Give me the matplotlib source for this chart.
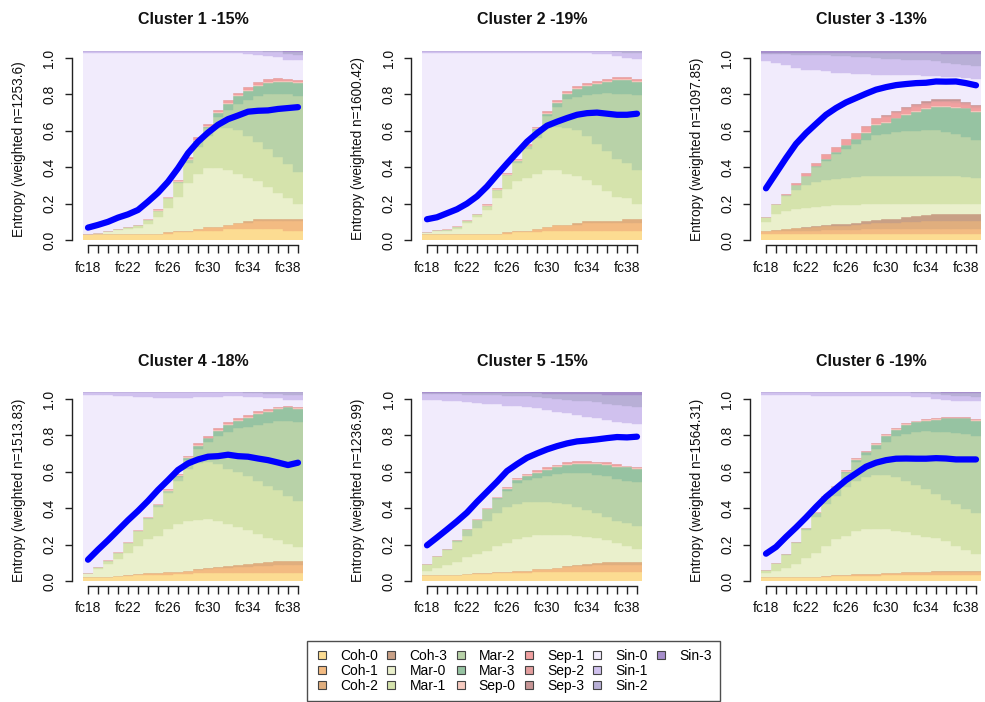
import numpy as np
import matplotlib
matplotlib.use("Agg")
import matplotlib.pyplot as plt
from matplotlib.lines import Line2D

plt.rcParams['font.family'] = ['Liberation Sans', 'DejaVu Sans']

# ---------------- data ----------------
time_labels = ["fc18", "fc19", "fc20", "fc21", "fc22", "fc23", "fc24", "fc25", "fc26", "fc27", "fc28",
               "fc29", "fc30", "fc31", "fc32", "fc33", "fc34", "fc35", "fc36", "fc37", "fc38", "fc39"]
shown_labels = ["fc18", "fc22", "fc26", "fc30", "fc34", "fc38"]

states = ["Coh-0", "Coh-1", "Coh-2", "Coh-3", "Mar-0", "Mar-1", "Mar-2", "Mar-3",
          "Sep-0", "Sep-1", "Sep-2", "Sep-3", "Sin-0", "Sin-1", "Sin-2", "Sin-3"]
state_colors = ["#FCDC92", "#F3BB82", "#E0AE7E", "#C8A086", "#EAF0CC", "#D5E3AC", "#B8D2A8", "#96C3A2",
                "#F7CBC0", "#F0A0A0", "#E39E9E", "#C79595", "#F1EBFC", "#D0C1EE", "#B8AFD6", "#A68ECB"]

titles = ["Cluster 1 -15%", "Cluster 2 -19%", "Cluster 3 -13%",
          "Cluster 4 -18%", "Cluster 5 -15%", "Cluster 6 -19%"]
weighted_n = ["1253.6", "1600.42", "1097.85", "1513.83", "1236.99", "1564.31"]

# state distributions in percent (Sin-0 = remaining share)
cluster1 = {
    "Coh-0": [3,3,3,3,3,3,3,3,3,4,4,5,5,5,6,6,6,6,6,6,5,5],
    "Coh-1": [0,0,0,0,0,0,0,0,1,1,1,1,2,2,2,3,3,4,4,4,5,5],
    "Coh-2": [0,0,0,0,0,0,0,0,0,0,0,0,0,0,0,0,1,1,1,1,1,1],
    "Mar-0": [0,0.5,2,2.5,3,3.5,5.5,9,13,18,25,29,31,31,29,26,23,20,17,14,11,8],
    "Mar-1": [0,0,0,0.5,1,1.2,2,3.4,5,7,11,14,17,21,22,23,22,21,20,19,18,17],
    "Mar-2": [0,0,0,0,0,0,0,0,0,0.5,1.5,3,4,6,10,14,19,24,29,33,37,40],
    "Mar-3": [0,0,0,0,0,0,0,0,0,0,0,0.6,0.6,2,3,4,5,5.6,6,6.7,6.7,7],
    "Sep-0": [0,0,0,0,0,0,0.5,0.5,0.5,0.5,0.5,0.5,0.5,0.5,0.5,0.5,0.5,0.5,0.5,0.5,0.5,0.5],
    "Sep-1": [0,0,0,0,0,0,0,0.5,0.5,1,1,1.5,1.5,1.5,1.5,1.5,1.5,1.5,1.5,1.5,1,1],
    "Sin-1": [1,1,1,1,1,1,1,1,1,1,1,1,1,1,1,1,1.5,2,2,2.5,3,3],
    "Sin-2": [0,0,0,0,0,0,0,0,0,0,0,0,0,0,0,0,0,0,0.5,0.5,1,1.5],
    "Sin-3": [0,0,0,0,0,0,0,0,0,0,0,0,0,0,0,0,0,0,0,0,0.5,0.5],
}
cluster2 = {
    "Coh-0": [3,3,3,3,3,3,3,3,3,4,4,4,5,5,5,5,5,5,5,5,5,5],
    "Coh-1": [0,0,0,0,0,0,0,0,1,1,1,2,2,3,3,3,4,4,4,4,4,4],
    "Coh-2": [0,0,0,0,0,0,0,0,0,0,0,0,0,0,0,1,1,1,1,1,2,2],
    "Mar-0": [1.4,2,2,3,6,9,13,19,23,26,28,29,30,29,27,25,22,19,16,13,11,8],
    "Mar-1": [0,0.3,0.5,0.9,1.1,1.5,2,4.3,7.2,10,15,19,22,23,24,24,23,22,21,20,19,18],
    "Mar-2": [0,0,0,0,0,0,0,0,0,0.6,1.5,4,6.5,10.5,15.5,17.8,21.5,26,30.7,34.5,36.5,39.7],
    "Mar-3": [0,0,0,0,0,0,0,0,0,0,0,0.5,1,2,3,4,5,5.5,6,7,7,7],
    "Sep-0": [0,0,0.5,0.5,0.5,0.5,0.5,0.5,0.5,0.5,0.5,0.5,0.5,0.5,0.5,0.5,0.5,0.5,0.5,0.5,0.5,0.5],
    "Sep-1": [0,0,0,0,0,0,0.5,0.5,0.5,0.5,1,1,1,1,1,1,1,1,1,1,1,1],
    "Sin-1": [1,1,1,1,1,1,1,1,1,1,1,1,1,1,1,1,1,1.5,1.5,2,2.5,3],
    "Sin-2": [0,0,0,0,0,0,0,0,0,0,0,0,0,0,0,0,0,0,0,0.5,1,1],
}
cluster3 = {
    "Coh-0": [3,3,3,3,3,3,3,3,3,3,3,3,3,3,3,3,3,3,3,3,3,3],
    "Coh-1": [1.5,2,2,2,2,2,2.5,2.5,2.5,2.5,3,3,3,3,3,3,3,3,3,3,3,3],
    "Coh-2": [0,0.5,1,1.5,1.5,2,2,2,2,2.5,2.5,3,3,3,3.5,3.5,4,4,4,4,4,4],
    "Coh-3": [0,0,0,0,0.5,0.5,0.5,1,1,1,1.5,1.5,2,2,2.5,3,3,3.5,4,4,4,4],
    "Mar-0": [5.2,8.5,9.5,10,10,10,10,10,10,9.5,9,8.5,8,8,7,6.5,6,5.5,5,5,5,5],
    "Mar-1": [2.6,5,8,10,12,13,13.5,14,14.5,15,15,15,15,15,15,15,15,15,15,15,14.5,14],
    "Mar-2": [0,0,0.3,2.5,4.7,8,10.4,12.8,15.2,17.2,18.7,21.8,22,23.3,23.9,23.7,24.1,24.3,23.3,22,21.1,20],
    "Mar-3": [0,0,0,0,0,0.5,1,1.5,2,3,4,5,6,7,8.5,10,11,12,13,14,15,14.8],
    "Sep-0": [0,0,0,0,0,0,0,0,0,0,0.5,0.5,0.5,0.5,0.5,0.5,0.5,0.5,0.5,0.5,0.5,0.5],
    "Sep-1": [0,0,0.5,1,1.5,2,2.5,2.5,3,3,2.5,2.5,2.5,2.5,2,2,2,2,2,2,1.5,1.5],
    "Sep-2": [0,0,0,0,0,0,0,0,0,0,0.5,0.5,0.5,0.5,0.8,1,1,1,1,1,1,1],
    "Sep-3": [0,0,0,0,0,0,0,0,0,0,0,0,0.5,0.5,0.7,1,1,1,1,1,0.5,0.5],
    "Sin-1": [4,5,6,7,8,8,8.5,9,9,9,9,9,8.5,8.5,8,8,8,7.5,7.5,7,7,7],
    "Sin-2": [0.5,0.5,0.5,1,1,1,1,1.5,1.5,2,2,2.5,3,3,3.5,3.5,4,4.5,5,5.5,6,6.5],
    "Sin-3": [1,1,1,1,1,1,1,1,1,1,1,1,1,1,1,1,1,1,1.5,1.5,1.5,1.5],
}
cluster4 = {
    "Coh-0": [2,2,2,2.5,2.5,3,3,3,3,3.5,3.5,4,4,4,4,4,4,4,4,4,4,4],
    "Coh-1": [0,0,0,0,0.5,0.5,1,1,1.5,1.5,2,2,2.5,3,3,3.5,3.5,4,4,4.5,4.5,4.5],
    "Coh-2": [0,0,0,0,0,0,0,0,0,0,0,0.5,0.5,0.5,1,1,1.5,1.5,2,2,2,2],
    "Mar-0": [2,4.5,7,9,12,15,18,20,23,25,26,26,26,24.5,22,20,18,15.5,13,11,9,7.5],
    "Mar-1": [0.2,0.9,1.8,3.3,5,8,11,15,19,23,28,30,30,30,29.5,29,28.5,28,27.5,26.5,25.5,24.5],
    "Mar-2": [0,0,0,0,0.1,0.1,0.3,1.3,1.3,2.2,4.4,7.4,10.4,14.5,19.5,23.3,26,29.8,33,36.4,39.8,41.4],
    "Mar-3": [0,0,0,0,0,0,0,0,0,0.5,1,1.5,2,3,3.5,4,5,5.5,6,6.5,7,7],
    "Sep-0": [0,0,0.5,0.5,0.5,0.5,0.5,0.5,0.5,0.5,0.5,0.5,0.5,0.5,0.5,0.5,0.5,0.5,0.5,0.5,0.5,0.5],
    "Sep-1": [0,0,0,0,0,0,0,0,0.5,0.5,1,1,1,1,1,1,1,1,1,0.5,0.5,0.5],
    "Sin-1": [1.5,1.5,1.5,2,2,2.5,2.5,3,3,3,3,2.5,2.5,2.5,2,2,2,2,2,2,2.5,2.5],
    "Sin-2": [0,0,0,0,0,0,0,0,0,0,0,0,0,0,0,0,0.5,0.5,1,1,1.5,1.5],
}
cluster5 = {
    "Coh-0": [3,3,3,3,3.5,3.5,3.5,4,4,4,4,4.5,4.5,4.5,5,5,5,5,5,5,5,5],
    "Coh-1": [0,0,0,0,0,0.5,0.5,1,1,1.5,1.5,2,2,2.5,2.5,3,3,3.5,3.5,3.5,3.5,3.5],
    "Coh-2": [0,0,0,0,0,0,0,0,0,0,0,0,0,0,0.5,0.5,1,1,1.5,1.5,1.5,1.5],
    "Mar-0": [2.5,4,5.5,7,9,10.5,12,13.5,15,16.5,18,18,18,17.5,16.5,15.5,14.5,13,11.5,10,8.5,7],
    "Mar-1": [3.7,6,8,10.5,11.5,13.5,16,17.5,19,19,18.5,17.5,17.5,17,16,15,14,13.5,12.5,12,12,12],
    "Mar-2": [0,0.2,0.6,1.3,3.6,4.4,6.1,7.4,8.6,11.1,11.7,12.5,13.7,15.1,16.9,18.4,19.4,20.2,21.4,22,22.6,23.2],
    "Mar-3": [0,0,0,0,0,0,0,0.5,1,1.5,2,2.5,3,3.5,4,4.5,5,5.5,6,6.5,7,7],
    "Sep-0": [0,0,0,0,0,0.5,0.5,0.5,0.5,0.5,0.5,0.5,0.5,0.5,0.5,0.5,0.5,0.5,0.5,0.5,0.5,0.5],
    "Sep-1": [0,0,0,0,0,0,0,0,0.5,0.5,0.5,1,1,1,1,1,1,1,1,1,0.5,0.5],
    "Sin-1": [3,3,3.5,4,4,4.5,5,5,5.5,5.5,6,6,6.5,7,7,7.5,8,8,8.5,9,9,9],
    "Sin-2": [0.5,0.5,0.5,0.5,1,1,1,1,1.5,1.5,1.5,2,2,2.5,3,3.5,4,4.5,5,5.5,6,6.5],
    "Sin-3": [0.5,0.5,0.5,0.5,0.5,0.5,0.5,0.5,0.5,0.5,0.5,0.5,1,1,1,1,1,1,1.5,1.5,1.5,1.5],
}
cluster6 = {
    "Coh-0": [2,2,2,2,2,2,2,2.5,2.5,2.5,2.5,2.5,3,3,3,3,3,3,3,3,3,3],
    "Coh-1": [0,0,0,0,0,0,0.5,0.5,0.5,1,1,1,1,1,1.5,1.5,1.5,2,2,2,2,2],
    "Coh-2": [0,0,0,0,0,0,0,0,0,0,0,0,0,0,0,0,0.5,0.5,0.5,0.5,0.5,0.5],
    "Mar-0": [2,3.5,5,7,10,13,16,19,21,23,24,24,23.5,22.5,21.5,20,18.5,17,15.5,13,11,9],
    "Mar-1": [2,4,7,11,15,19,22.5,23,26,26.5,27.5,28.5,28.5,28.5,27,26.5,25,23.5,22,22,21.5,21.5],
    "Mar-2": [0,0,0.4,0.6,1.2,1.9,3.7,5,7,10.1,11.5,13.9,17.8,21.5,25,27.9,30.7,32.8,36,38,40,40.7],
    "Mar-3": [0,0,0,0,0,0,0,0,0.5,1,1.5,2,3,3.5,4.5,5,5.5,6.5,7,7.5,8,8],
    "Sep-0": [0,0,0,0,0,0.5,0.5,0.5,0.5,0.5,0.5,0.5,0.5,0.5,0.5,0.5,0.5,0.5,0.5,0.5,0.5,0.5],
    "Sep-1": [0,0,0,0,0,0,0,0,0.5,0.5,0.5,0.5,0.5,0.5,0.5,0.5,0.5,0.5,0.5,0.5,0.5,0.5],
    "Sin-1": [1.5,1.5,1.5,1.5,1.5,2,2,2,2,2,2,2,2,2,2,2,2,2.5,2.5,2.5,2.5,2.5],
    "Sin-2": [0,0,0,0,0,0,0,0,0,0,0,0,0,0,0,0.5,0.5,1,1,1.5,1.5,2],
    "Sin-3": [0,0,0,0,0,0,0,0,0,0,0,0,0,0,0,0,0,0,0.5,0.5,0.5,0.5],
}
clusters = [cluster1, cluster2, cluster3, cluster4, cluster5, cluster6]

entropy1 = [0.068,0.083,0.100,0.123,0.141,0.165,0.211,0.260,0.320,0.394,0.477,0.540,0.590,0.633,0.664,0.684,0.705,0.710,0.712,0.720,0.725,0.730]
entropy2 = [0.114,0.125,0.147,0.169,0.200,0.240,0.294,0.358,0.420,0.480,0.540,0.587,0.628,0.650,0.670,0.688,0.697,0.700,0.694,0.688,0.688,0.694]
entropy3 = [0.284,0.367,0.450,0.528,0.587,0.638,0.688,0.725,0.756,0.780,0.804,0.826,0.840,0.851,0.857,0.862,0.864,0.871,0.870,0.871,0.862,0.850]
entropy4 = [0.117,0.172,0.224,0.279,0.334,0.385,0.440,0.500,0.554,0.610,0.646,0.668,0.683,0.686,0.694,0.686,0.683,0.673,0.664,0.651,0.637,0.650]
entropy5 = [0.196,0.239,0.283,0.328,0.376,0.435,0.490,0.545,0.604,0.642,0.677,0.701,0.723,0.741,0.756,0.767,0.772,0.778,0.785,0.791,0.789,0.793]
entropy6 = [0.150,0.187,0.242,0.294,0.349,0.407,0.462,0.508,0.554,0.591,0.628,0.650,0.664,0.672,0.673,0.672,0.672,0.675,0.673,0.668,0.668,0.668]
entropies = [entropy1, entropy2, entropy3, entropy4, entropy5, entropy6]

# ---------------- figure ----------------
W, H = 985, 702
PT = 72.0 / 100.0  # points per pixel at 100 dpi
fig = plt.figure(figsize=(W / 100, H / 100), dpi=100)
lefts = [83, 422, 761]
tops = [51, 392]
pw, ph = 220, 189
ytop = ph / 182.0  # entropy axis: 1.0 sits 182 px above 0

n_t = len(time_labels)
x = np.arange(n_t)
color_of = dict(zip(states, state_colors))

for i in range(6):
    r, c = divmod(i, 3)
    rect = [lefts[c] / W, 1 - (tops[r] + ph) / H, pw / W, ph / H]
    axb = fig.add_axes(rect)
    axb.set_axis_off()
    ax = fig.add_axes(rect)
    ax.patch.set_visible(False)

    data = clusters[i]
    shares = {}
    for s in states:
        if s != "Sin-0":
            shares[s] = np.array(data.get(s, [0] * n_t), dtype=float) / 100.0
    shares["Sin-0"] = 1.0 - sum(shares.values())
    bottom = np.zeros(n_t)
    for s in states:
        axb.bar(x, shares[s], width=1.0, bottom=bottom, color=color_of[s],
                edgecolor=color_of[s], linewidth=0.3)
        bottom = bottom + shares[s]
    axb.set_xlim(-0.5, n_t - 0.5)
    axb.set_ylim(0, 1)

    ax.plot(x, entropies[i], color="#0000FF", lw=4.5, solid_capstyle="round", zorder=5)
    ax.set_xlim(-0.5, n_t - 0.5)
    ax.set_ylim(0, ytop)

    for sp in ["top", "right"]:
        ax.spines[sp].set_visible(False)
    ax.spines["left"].set_position(("outward", 11 * PT))
    ax.spines["left"].set_bounds(0, 1)
    ax.spines["bottom"].set_position(("outward", 5 * PT))
    ax.spines["bottom"].set_bounds(0, n_t - 1)
    for sp in ["left", "bottom"]:
        ax.spines[sp].set_color("#222222")
        ax.spines[sp].set_linewidth(1.0)

    ax.set_xticks(x)
    ax.set_xticklabels([lab if lab in shown_labels else "" for lab in time_labels])
    yt = [0.0, 0.2, 0.4, 0.6, 0.8, 1.0]
    ax.set_yticks(yt)
    ax.set_yticklabels([f"{v:.1f}" for v in yt])
    ax.tick_params(axis="both", direction="out", length=7.5 * PT, width=1.0, colors="#222222",
                   labelsize=10, labelcolor="#111111")
    ax.tick_params(axis="x", pad=8 * PT)
    ax.tick_params(axis="y", pad=8 * PT)
    for lab in ax.get_yticklabels():
        lab.set_rotation(90)
        lab.set_verticalalignment("center")

    ax.set_ylabel(f"Entropy (weighted n={weighted_n[i]})", fontsize=9.8, color="#111111")
    ax.yaxis.label.set_verticalalignment("center")
    ax.yaxis.set_label_coords(-64 / pw, 0.5 / ytop)
    ax.text(0.5, 1 + 31 / ph, titles[i], transform=ax.transAxes, ha="center", va="center",
            fontsize=11.5, fontweight="bold", color="#111111")

# ---------------- legend ----------------
handles = [Line2D([], [], marker="s", ls="none", markersize=5.2, markerfacecolor=color_of[s],
                  markeredgecolor="#444444", markeredgewidth=0.8) for s in states]
labels = list(states)
handles += [Line2D([], [], ls="none"), Line2D([], [], ls="none")]
labels += ["", ""]
leg = fig.legend(handles, labels, ncol=6, loc="center", bbox_to_anchor=(0.5213, 0.0442),
                 frameon=True, fancybox=False, edgecolor="#222222", fontsize=10,
                 handlelength=1.0, handletextpad=0.8, columnspacing=0.45,
                 labelspacing=0.05, borderpad=0.6)
leg.get_frame().set_linewidth(1.0)

fig.savefig("out.png", dpi=100)
